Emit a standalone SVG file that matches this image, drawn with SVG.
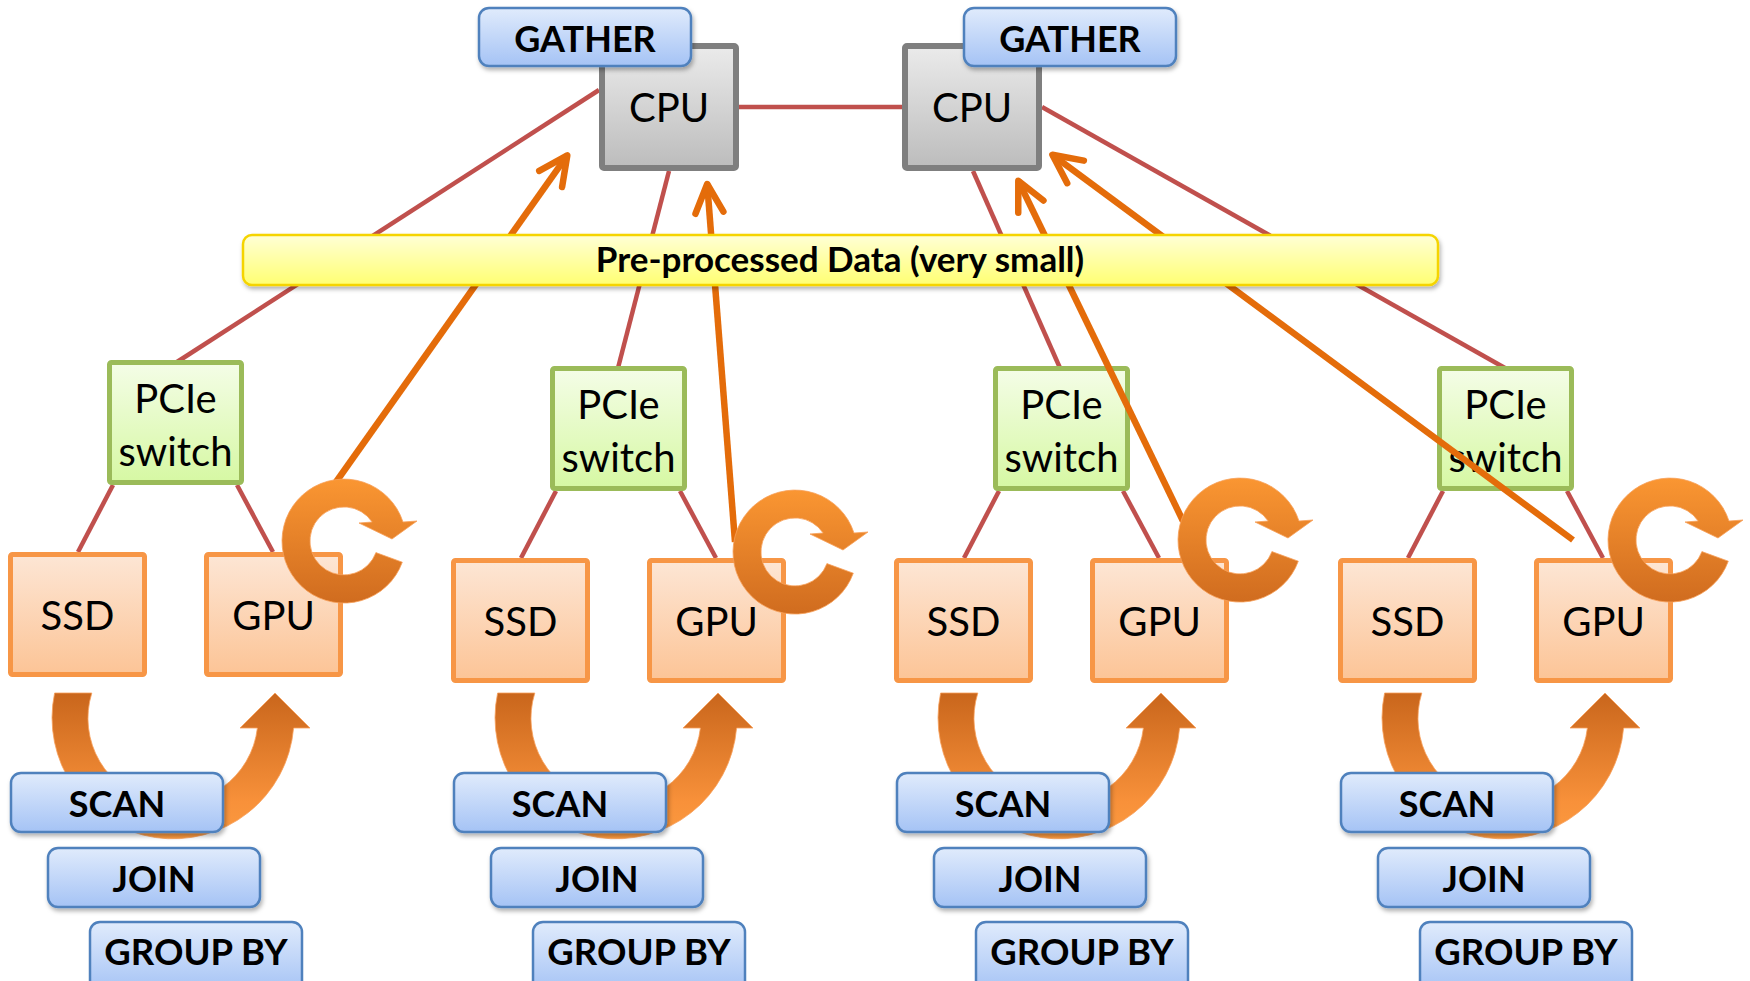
<svg xmlns="http://www.w3.org/2000/svg" width="1750" height="981" viewBox="0 0 1750 981">
<defs>
<linearGradient id="gBlue" x1="0" y1="0" x2="0" y2="1"><stop offset="0" stop-color="#e0ebfc"/><stop offset="1" stop-color="#a5c3f5"/></linearGradient>
<linearGradient id="gPeach" x1="0" y1="0" x2="0" y2="1"><stop offset="0" stop-color="#fde6d5"/><stop offset="1" stop-color="#fcc496"/></linearGradient>
<linearGradient id="gGreen" x1="0" y1="0" x2="0" y2="1"><stop offset="0" stop-color="#f4fde7"/><stop offset="1" stop-color="#d6f8a3"/></linearGradient>
<linearGradient id="gGray" x1="0" y1="0" x2="0" y2="1"><stop offset="0" stop-color="#ebebeb"/><stop offset="1" stop-color="#bcbcbc"/></linearGradient>
<linearGradient id="gYellow" x1="0" y1="0" x2="0" y2="1"><stop offset="0" stop-color="#ffffd6"/><stop offset="1" stop-color="#ffff72"/></linearGradient>
<linearGradient id="gRot" x1="0" y1="0" x2="0" y2="1"><stop offset="0" stop-color="#fa9632"/><stop offset="1" stop-color="#d06c1f"/></linearGradient>
<linearGradient id="gU" x1="0" y1="0" x2="0" y2="1"><stop offset="0" stop-color="#c9661c"/><stop offset="0.75" stop-color="#f8913a"/><stop offset="1" stop-color="#fb9a40"/></linearGradient>
<filter id="sh" x="-10%" y="-20%" width="125%" height="150%"><feDropShadow dx="1.5" dy="3" stdDeviation="2" flood-color="#000" flood-opacity="0.3"/></filter>
<marker id="ah" markerUnits="userSpaceOnUse" viewBox="-40 -25 50 50" markerWidth="50" markerHeight="50" refX="0" refY="0" orient="auto">
<path d="M-28.8,-14 L0,0 L-28.8,14" fill="none" stroke="#e46c0a" stroke-width="6.5" stroke-linecap="round" stroke-linejoin="round"/>
</marker>
<path id="rot" d="M58.3,21.2 A62,62 0 1 1 59,-19 L73,-20 L48,-2 L15,-18 L28.2,-19 A34,34 0 1 0 31.9,11.6 Z"/>
<path id="uarr" d="M54.6,693 A121,121 0 1 0 293.6,728 L310,728 L275,693 L240,728 L257.4,728 A85,85 0 1 1 91.8,693 Z"/>
</defs>
<style>
text{font-family:Lato,"Liberation Sans",sans-serif;fill:#000;text-anchor:middle}
.lbl{font-size:40px}
.bold{font-size:36px;font-weight:bold}
.gb{font-size:36.5px;font-weight:bold}
.bar{font-size:35px;font-weight:bold}
.blue{fill:url(#gBlue);stroke:#4f81bd;stroke-width:2.5}
.peach{fill:url(#gPeach);stroke:#f79646;stroke-width:5}
.green{fill:url(#gGreen);stroke:#9bbb59;stroke-width:5}
.gray{fill:url(#gGray);stroke:#7f7f7f;stroke-width:6}
.link{stroke:#c0504d;stroke-width:4.5;fill:none}
.flow{stroke:#e46c0a;stroke-width:6.5;fill:none;marker-end:url(#ah)}
.rot{fill:url(#gRot);stroke:#f7a15a;stroke-width:0.8}
.u{fill:url(#gU);stroke:#f7a05a;stroke-width:0.8}
</style>
<rect width="1750" height="981" fill="#fff"/>

<g id="connectors-links">
<line class="link" x1="739" y1="107" x2="902" y2="107"/>
<line class="link" x1="599" y1="90" x2="177" y2="362"/>
<line class="link" x1="669" y1="171" x2="618" y2="368"/>
<line class="link" x1="973" y1="171" x2="1060" y2="368"/>
<line class="link" x1="1042" y1="107" x2="1505" y2="368"/>
<line class="link" x1="113" y1="485" x2="78" y2="552"/>
<line class="link" x1="237" y1="485" x2="273" y2="552"/>
<line class="link" x1="556" y1="491" x2="521" y2="558"/>
<line class="link" x1="680" y1="491" x2="716" y2="558"/>
<line class="link" x1="999" y1="491" x2="964" y2="558"/>
<line class="link" x1="1123" y1="491" x2="1159" y2="558"/>
<line class="link" x1="1443" y1="491" x2="1408" y2="558"/>
<line class="link" x1="1567" y1="491" x2="1603" y2="558"/>
</g>

<g id="cpu1"><rect class="gray" x="602" y="46" width="134" height="122" rx="2"/><text class="lbl" x="669" y="122">CPU</text></g>
<g id="cpu2"><rect class="gray" x="905" y="46" width="134" height="122" rx="2"/><text class="lbl" x="972" y="122">CPU</text></g>
<g id="gather1"><rect class="blue" filter="url(#sh)" x="479" y="8" width="212" height="58" rx="10"/><text class="bold" x="585" y="52">GATHER</text></g>
<g id="gather2"><rect class="blue" filter="url(#sh)" x="964" y="8" width="212" height="58" rx="10"/><text class="bold" x="1070" y="52">GATHER</text></g>

<g id="pcie1"><rect class="green" x="109.5" y="362.5" width="132" height="120" rx="2"/><text class="lbl" x="175.5" y="413">PCIe</text><text class="lbl" x="175.5" y="466">switch</text></g>
<g id="ssd1"><rect class="peach" x="10.5" y="554.5" width="134" height="120" rx="2"/><text class="lbl" x="77.5" y="630">SSD</text></g>
<g id="gpu1"><rect class="peach" x="206.5" y="554.5" width="134" height="120" rx="2"/><text class="lbl" x="273.5" y="630">GPU</text></g>

<g id="pcie2"><rect class="green" x="552.5" y="368.5" width="132" height="120" rx="2"/><text class="lbl" x="618.5" y="419">PCIe</text><text class="lbl" x="618.5" y="472">switch</text></g>
<g id="ssd2"><rect class="peach" x="453.5" y="560.5" width="134" height="120" rx="2"/><text class="lbl" x="520.5" y="636">SSD</text></g>
<g id="gpu2"><rect class="peach" x="649.5" y="560.5" width="134" height="120" rx="2"/><text class="lbl" x="716.5" y="636">GPU</text></g>

<g id="pcie3"><rect class="green" x="995.5" y="368.5" width="132" height="120" rx="2"/><text class="lbl" x="1061.5" y="419">PCIe</text><text class="lbl" x="1061.5" y="472">switch</text></g>
<g id="ssd3"><rect class="peach" x="896.5" y="560.5" width="134" height="120" rx="2"/><text class="lbl" x="963.5" y="636">SSD</text></g>
<g id="gpu3"><rect class="peach" x="1092.5" y="560.5" width="134" height="120" rx="2"/><text class="lbl" x="1159.5" y="636">GPU</text></g>

<g id="pcie4"><rect class="green" x="1439.5" y="368.5" width="132" height="120" rx="2"/><text class="lbl" x="1505.5" y="419">PCIe</text><text class="lbl" x="1505.5" y="472">switch</text></g>
<g id="ssd4"><rect class="peach" x="1340.5" y="560.5" width="134" height="120" rx="2"/><text class="lbl" x="1407.5" y="636">SSD</text></g>
<g id="gpu4"><rect class="peach" x="1536.5" y="560.5" width="134" height="120" rx="2"/><text class="lbl" x="1603.5" y="636">GPU</text></g>

<g id="connectors-flow">
<line class="flow" x1="336" y1="482" x2="567.3" y2="155.4"/>
<line class="flow" x1="735" y1="542" x2="707.2" y2="184"/>
<line class="flow" x1="1183" y1="521" x2="1018.3" y2="180.7"/>
<line class="flow" x1="1573" y1="540" x2="1052.4" y2="154.8"/>
</g>

<g id="preprocessed">
<rect x="243" y="235" width="1195" height="50" rx="9" fill="url(#gYellow)" stroke="#f5d400" stroke-width="2.5" filter="url(#sh)"/>
<text class="bar" x="840" y="272">Pre-processed Data (very small)</text>
</g>

<g id="loop1"><use href="#rot" class="rot" transform="translate(344,541)"/></g>
<g id="loop2"><use href="#rot" class="rot" transform="translate(795,552)"/></g>
<g id="loop3"><use href="#rot" class="rot" transform="translate(1240,540)"/></g>
<g id="loop4"><use href="#rot" class="rot" transform="translate(1670,540)"/></g>

<g id="uturn1"><use href="#uarr" class="u"/></g>
<g id="uturn2"><use href="#uarr" class="u" transform="translate(443,0)"/></g>
<g id="uturn3"><use href="#uarr" class="u" transform="translate(886,0)"/></g>
<g id="uturn4"><use href="#uarr" class="u" transform="translate(1330,0)"/></g>

<g id="scan1"><rect class="blue" filter="url(#sh)" x="11" y="773" width="212" height="59" rx="10"/><text class="bold" x="117" y="817">SCAN</text></g>
<g id="join1"><rect class="blue" filter="url(#sh)" x="48" y="848" width="212" height="59" rx="10"/><text class="bold" x="154" y="892">JOIN</text></g>
<g id="groupby1"><rect class="blue" x="90" y="922" width="212" height="70" rx="10"/><text class="gb" x="196" y="965">GROUP BY</text></g>

<g id="scan2"><rect class="blue" filter="url(#sh)" x="454" y="773" width="212" height="59" rx="10"/><text class="bold" x="560" y="817">SCAN</text></g>
<g id="join2"><rect class="blue" filter="url(#sh)" x="491" y="848" width="212" height="59" rx="10"/><text class="bold" x="597" y="892">JOIN</text></g>
<g id="groupby2"><rect class="blue" x="533" y="922" width="212" height="70" rx="10"/><text class="gb" x="639" y="965">GROUP BY</text></g>

<g id="scan3"><rect class="blue" filter="url(#sh)" x="897" y="773" width="212" height="59" rx="10"/><text class="bold" x="1003" y="817">SCAN</text></g>
<g id="join3"><rect class="blue" filter="url(#sh)" x="934" y="848" width="212" height="59" rx="10"/><text class="bold" x="1040" y="892">JOIN</text></g>
<g id="groupby3"><rect class="blue" x="976" y="922" width="212" height="70" rx="10"/><text class="gb" x="1082" y="965">GROUP BY</text></g>

<g id="scan4"><rect class="blue" filter="url(#sh)" x="1341" y="773" width="212" height="59" rx="10"/><text class="bold" x="1447" y="817">SCAN</text></g>
<g id="join4"><rect class="blue" filter="url(#sh)" x="1378" y="848" width="212" height="59" rx="10"/><text class="bold" x="1484" y="892">JOIN</text></g>
<g id="groupby4"><rect class="blue" x="1420" y="922" width="212" height="70" rx="10"/><text class="gb" x="1526" y="965">GROUP BY</text></g>
</svg>
